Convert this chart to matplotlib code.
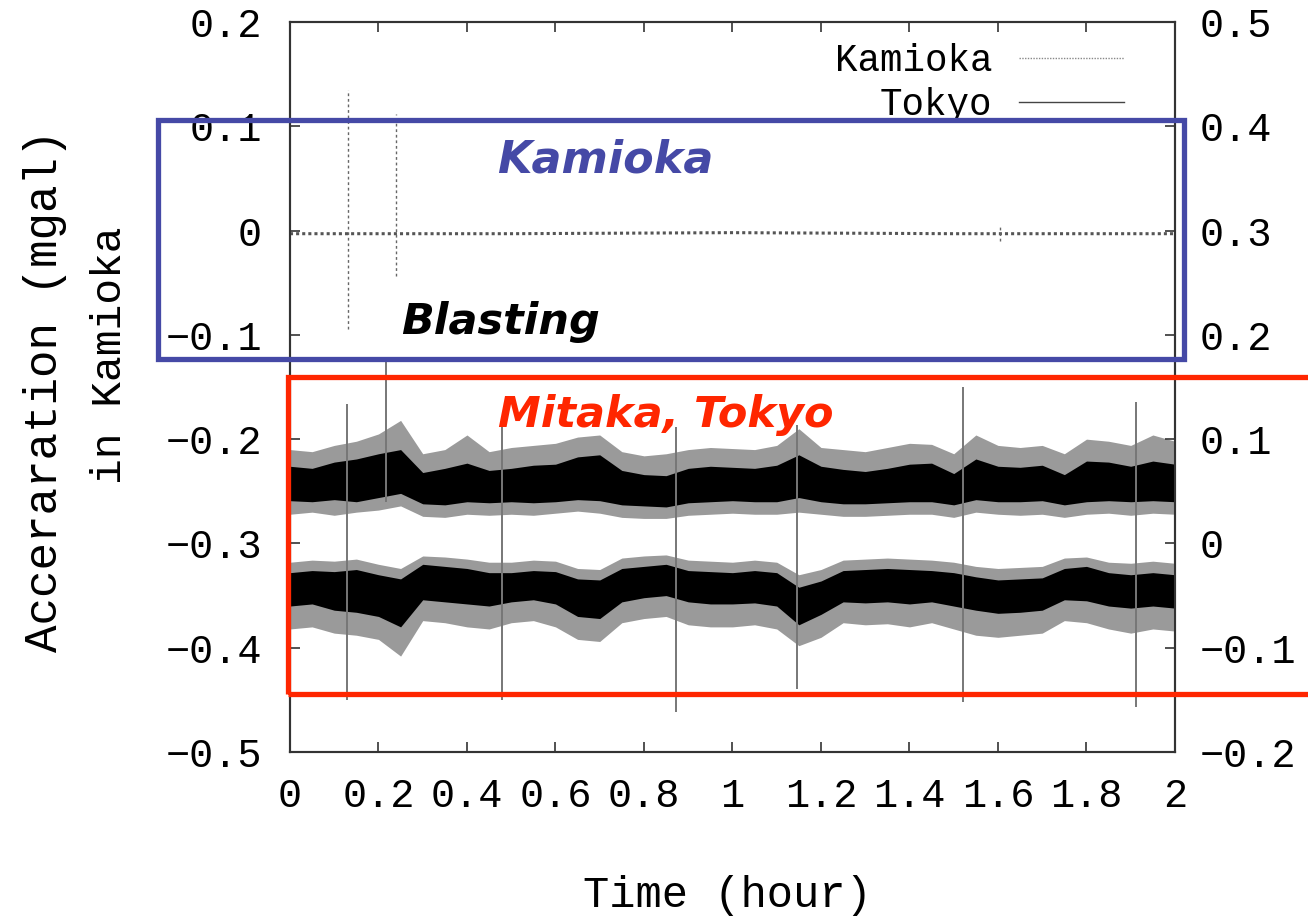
import numpy as np
import matplotlib.pyplot as plt
from matplotlib.patches import Rectangle

# time grid of the envelope readings (hour)
t_env = [0.00, 0.05, 0.10, 0.15, 0.20, 0.25, 0.30, 0.35, 0.40, 0.45,
         0.50, 0.55, 0.60, 0.65, 0.70, 0.75, 0.80, 0.85, 0.90, 0.95,
         1.00, 1.05, 1.10, 1.15, 1.20, 1.25, 1.30, 1.35, 1.40, 1.45,
         1.50, 1.55, 1.60, 1.65, 1.70, 1.75, 1.80, 1.85, 1.90, 1.95, 2.00]

# Tokyo, upper trace (right axis, mgal): dense core and outer peaks
upper_core_hi = [0.074, 0.072, 0.078, 0.081, 0.086, 0.090, 0.068, 0.072, 0.077, 0.070,
                 0.072, 0.075, 0.076, 0.083, 0.085, 0.070, 0.066, 0.065, 0.072, 0.074,
                 0.073, 0.072, 0.075, 0.085, 0.074, 0.071, 0.069, 0.072, 0.076, 0.077,
                 0.067, 0.081, 0.074, 0.073, 0.075, 0.066, 0.079, 0.078, 0.074, 0.079, 0.076]
upper_core_lo = [0.041, 0.040, 0.042, 0.040, 0.044, 0.048, 0.038, 0.037, 0.040, 0.039,
                 0.040, 0.039, 0.040, 0.042, 0.041, 0.037, 0.036, 0.035, 0.039, 0.040,
                 0.041, 0.040, 0.040, 0.044, 0.040, 0.038, 0.038, 0.039, 0.040, 0.040,
                 0.037, 0.042, 0.040, 0.040, 0.041, 0.037, 0.040, 0.041, 0.040, 0.041, 0.040]
upper_max = [0.090, 0.088, 0.094, 0.098, 0.105, 0.118, 0.086, 0.090, 0.104, 0.088,
             0.092, 0.094, 0.096, 0.102, 0.104, 0.088, 0.084, 0.086, 0.090, 0.092,
             0.091, 0.090, 0.094, 0.110, 0.092, 0.090, 0.088, 0.092, 0.096, 0.095,
             0.086, 0.104, 0.094, 0.092, 0.094, 0.086, 0.100, 0.098, 0.094, 0.104, 0.098]
upper_min = [0.028, 0.030, 0.027, 0.030, 0.032, 0.036, 0.026, 0.025, 0.028, 0.027,
             0.028, 0.027, 0.029, 0.031, 0.029, 0.025, 0.024, 0.024, 0.027, 0.028,
             0.029, 0.028, 0.028, 0.030, 0.028, 0.026, 0.026, 0.027, 0.028, 0.028,
             0.025, 0.030, 0.028, 0.027, 0.028, 0.025, 0.028, 0.029, 0.027, 0.029, 0.028]

# Tokyo, lower trace
lower_core_hi = [-0.028, -0.026, -0.027, -0.025, -0.030, -0.034, -0.020, -0.022, -0.024, -0.028,
                 -0.028, -0.026, -0.027, -0.034, -0.035, -0.024, -0.022, -0.020, -0.026, -0.027,
                 -0.028, -0.026, -0.028, -0.042, -0.036, -0.026, -0.025, -0.024, -0.025, -0.026,
                 -0.028, -0.032, -0.035, -0.034, -0.033, -0.024, -0.022, -0.028, -0.030, -0.028, -0.030]
lower_core_lo = [-0.060, -0.058, -0.064, -0.066, -0.070, -0.080, -0.054, -0.056, -0.058, -0.060,
                 -0.056, -0.054, -0.058, -0.070, -0.072, -0.056, -0.052, -0.050, -0.056, -0.058,
                 -0.058, -0.057, -0.060, -0.078, -0.068, -0.056, -0.057, -0.056, -0.058, -0.056,
                 -0.060, -0.064, -0.067, -0.066, -0.064, -0.054, -0.055, -0.060, -0.062, -0.060, -0.062]
lower_max = [-0.018, -0.016, -0.017, -0.015, -0.020, -0.024, -0.012, -0.013, -0.015, -0.018,
             -0.018, -0.016, -0.017, -0.024, -0.025, -0.014, -0.012, -0.011, -0.016, -0.017,
             -0.018, -0.016, -0.018, -0.030, -0.025, -0.016, -0.015, -0.014, -0.015, -0.016,
             -0.018, -0.022, -0.024, -0.023, -0.022, -0.014, -0.013, -0.018, -0.019, -0.017, -0.019]
lower_min = [-0.082, -0.080, -0.086, -0.088, -0.092, -0.108, -0.074, -0.076, -0.080, -0.082,
             -0.076, -0.074, -0.080, -0.092, -0.094, -0.076, -0.072, -0.070, -0.078, -0.080,
             -0.080, -0.078, -0.082, -0.098, -0.090, -0.076, -0.078, -0.077, -0.080, -0.076,
             -0.082, -0.088, -0.090, -0.088, -0.086, -0.074, -0.076, -0.082, -0.086, -0.082, -0.084]

# single spikes in the Tokyo record
tokyo_spike_t = [0.129, 0.217, 0.479, 0.872, 1.146, 1.521, 1.912]
tokyo_spike_top = [0.134, 0.190, 0.114, 0.112, 0.114, 0.150, 0.136]
tokyo_spike_bot = [-0.150, 0.040, -0.150, -0.162, -0.140, -0.152, -0.157]

# Kamioka record (left axis)
kamioka_t = [0.0, 0.5, 1.0, 1.5, 2.0]
kamioka_val = [-0.003, -0.003, -0.002, -0.003, -0.003]
blast_t = [0.130, 0.240, 1.605]
blast_top = [0.135, 0.112, 0.004]
blast_bot = [-0.094, -0.044, -0.010]

xticks = [0, 0.2, 0.4, 0.6, 0.8, 1, 1.2, 1.4, 1.6, 1.8, 2]
xlabels = ['0', '0.2', '0.4', '0.6', '0.8', '1', '1.2', '1.4', '1.6', '1.8', '2']
yticks_l = [-0.5, -0.4, -0.3, -0.2, -0.1, 0, 0.1, 0.2]
ylabels_l = ['\u22120.5', '\u22120.4', '\u22120.3', '\u22120.2', '\u22120.1', '0', '0.1', '0.2']
yticks_r = [-0.2, -0.1, 0, 0.1, 0.2, 0.3, 0.4, 0.5]
ylabels_r = ['\u22120.2', '\u22120.1', '0', '0.1', '0.2', '0.3', '0.4', '0.5']

mono = 'Liberation Mono'
fs = 29

fig = plt.figure(figsize=(13.08, 9.16), dpi=100)
ax = fig.add_axes([0.2217, 0.179, 0.6766, 0.797])
ax2 = ax.twinx()

# Kamioka
ax.plot(kamioka_t, kamioka_val, color='#555555', lw=2.2, ls=(0, (1, 1)))
ax.vlines(blast_t, blast_bot, blast_top, color='#666666', lw=1.0, linestyles=(0, (2, 2)))

# Tokyo: outer peaks grey, dense core black
for lo, hi, clo, chi in ((upper_min, upper_max, upper_core_lo, upper_core_hi),
                         (lower_min, lower_max, lower_core_lo, lower_core_hi)):
    ax2.fill_between(t_env, lo, hi, color='#9a9a9a', lw=0)
    ax2.fill_between(t_env, clo, chi, color='black', lw=0)
ax2.vlines(tokyo_spike_t, tokyo_spike_bot, tokyo_spike_top, color='#777777', lw=1.4)

ax.set_xlim(0, 2)
ax.set_ylim(-0.5, 0.2)
ax2.set_ylim(-0.2, 0.5)

ax.set_xticks(xticks)
ax.set_xticklabels(xlabels, fontfamily=mono, fontsize=fs)
ax.set_yticks(yticks_l)
ax.set_yticklabels(ylabels_l, fontfamily=mono, fontsize=fs)
ax2.set_yticks(yticks_r)
ax2.set_yticklabels(ylabels_r, fontfamily=mono, fontsize=fs)

ax.tick_params(axis='x', direction='in', length=7, width=1.2, pad=18, top=True, color='#333333')
ax.tick_params(axis='y', direction='in', length=7, width=1.2, pad=20, color='#333333')
ax2.tick_params(axis='y', direction='in', length=7, width=1.2, pad=18, color='#333333')
for a in (ax, ax2):
    for s in a.spines.values():
        s.set_color('#333333')
        s.set_linewidth(1.5)

# legend (gnuplot style: text then sample)
h1, = ax2.plot([], [], color='#888888', lw=1.0, ls=(0, (1, 1)), label='Kamioka')
h2, = ax2.plot([], [], color='#444444', lw=1.0, label='Tokyo')
ax2.legend(handles=[h1, h2], loc='upper right', bbox_to_anchor=(0.98, 1.017),
           frameon=False, markerfirst=False, handlelength=2.8, handletextpad=0.7,
           labelspacing=0.2, prop={'family': mono, 'size': fs - 2})

# axis titles
fig.text(0.0344, 0.573, 'Acceraration (mgal)', rotation=90, ha='center', va='center',
         fontfamily=mono, fontsize=33)
fig.text(0.0841, 0.612, 'in Kamioka', rotation=90, ha='center', va='center',
         fontfamily=mono, fontsize=31)
fig.text(0.556, 0.022, 'Time (hour)', ha='center', va='center', fontfamily=mono, fontsize=31.5)

# overlays
W, H = 1308, 916
def px_rect(x0, y0, x1, y1, **kw):
    r = Rectangle((x0 / W, 1 - y1 / H), (x1 - x0) / W, (y1 - y0) / H,
                  transform=fig.transFigure, clip_on=False, **kw)
    fig.add_artist(r)

px_rect(383, 300, 625, 358, facecolor='white', edgecolor='none')
px_rect(158, 120, 1184, 359, facecolor='none', edgecolor='#4549a6', lw=3.8)
px_rect(288, 377, 1320, 694, facecolor='none', edgecolor='#ff2600', lw=3.8)

fig.text(605 / W, 1 - 160 / H, 'Kamioka', color='#4549a6', fontsize=32,
         fontweight='bold', fontstyle='italic', ha='center', va='center')
fig.text(500 / W, 1 - 322 / H, 'Blasting', color='black', fontsize=31,
         fontweight='bold', fontstyle='italic', ha='center', va='center')
fig.text(666 / W, 1 - 415 / H, 'Mitaka, Tokyo', color='#ff2600', fontsize=31,
         fontweight='bold', fontstyle='italic', ha='center', va='center')

fig.savefig('out.png', dpi=100)
